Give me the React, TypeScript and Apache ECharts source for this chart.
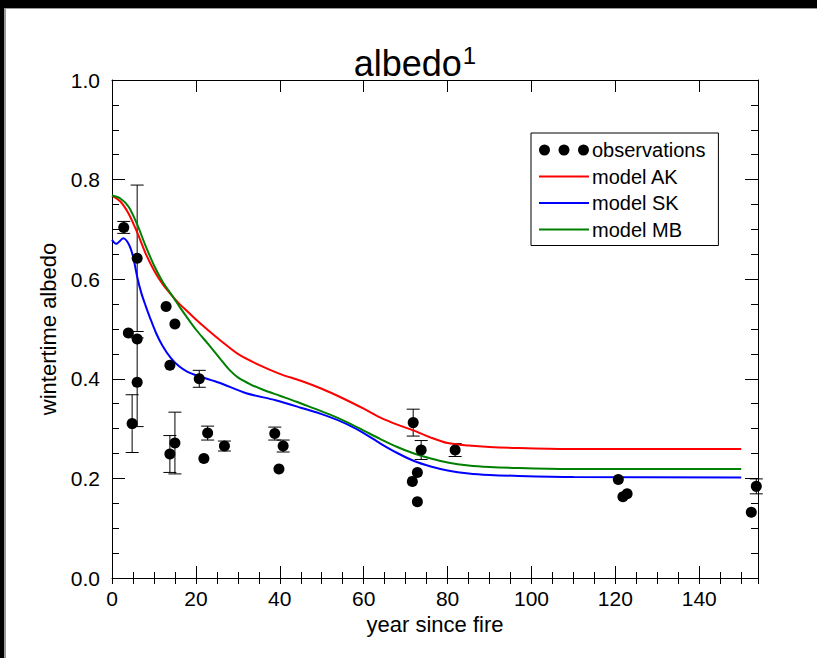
import React, { useEffect, useRef } from "react";
import * as echarts from "echarts";

// ---- data ----
const obsX = [2.8, 3.9, 6.0, 6.0, 6.0, 4.8, 12.9, 15.0, 13.8, 20.8, 15.0, 13.8, 22.8, 21.9, 26.8, 38.8, 40.8, 39.8, 71.8, 73.7, 81.8, 72.8, 71.6, 72.8, 120.7, 121.8, 122.8, 153.6, 152.4];
const obsY = [0.704, 0.492, 0.642, 0.48, 0.393, 0.31, 0.545, 0.51, 0.427, 0.4, 0.271, 0.249, 0.291, 0.24, 0.265, 0.29, 0.265, 0.219, 0.312, 0.257, 0.257, 0.212, 0.194, 0.153, 0.198, 0.163, 0.169, 0.184, 0.132];
const obsErr = [0.012, 0, 0.147, 0, 0.089, 0.058, 0, 0, 0, 0.017, 0.062, 0.037, 0.014, 0, 0.01, 0.013, 0.012, 0, 0.027, 0.019, 0.013, 0, 0, 0, 0, 0, 0, 0.015, 0];

const modelAK = [[0, 0.768], [2, 0.756], [4, 0.731], [6, 0.694], [8, 0.652], [10, 0.618], [12, 0.591], [14, 0.57], [16, 0.551], [18, 0.535], [20, 0.519], [23, 0.497], [26, 0.476], [30, 0.45], [35, 0.428], [40, 0.41], [45, 0.396], [50, 0.38], [55, 0.361], [60, 0.34], [64, 0.322], [68, 0.308], [72, 0.296], [76, 0.282], [80, 0.271], [85, 0.266], [90, 0.263], [97, 0.261], [110, 0.259], [150, 0.259]];
const modelMB = [[0, 0.768], [2, 0.762], [4, 0.745], [6, 0.71], [8, 0.667], [10, 0.628], [12, 0.596], [14, 0.571], [16, 0.546], [18, 0.522], [20, 0.499], [23, 0.469], [26, 0.438], [28, 0.418], [30, 0.403], [33, 0.389], [36, 0.378], [40, 0.366], [44, 0.354], [48, 0.341], [52, 0.328], [56, 0.313], [60, 0.296], [64, 0.279], [68, 0.263], [72, 0.25], [76, 0.24], [80, 0.232], [85, 0.226], [90, 0.223], [97, 0.221], [110, 0.219], [150, 0.219]];
const modelSK = [[0, 0.679], [1, 0.671], [2.7, 0.682], [4, 0.67], [5, 0.646], [6, 0.605], [7, 0.572], [8, 0.547], [9, 0.524], [10.5, 0.492], [12, 0.467], [14, 0.442], [16, 0.425], [18, 0.414], [20.8, 0.405], [25.6, 0.392], [32, 0.371], [39, 0.357], [45, 0.342], [51, 0.326], [56, 0.309], [60, 0.291], [64, 0.27], [68, 0.251], [72, 0.235], [76, 0.224], [80, 0.216], [85, 0.21], [90, 0.207], [97, 0.205], [110, 0.203], [150, 0.202]];

const seriesNames = ["observations", "model AK", "model SK", "model MB"];
const seriesColors = ["#000000", "#ff0000", "#0000ff", "#008000"];
const titleText = "albedo";
const titleSup = "1";
const xName = "year since fire";
const yName = "wintertime albedo";

const FONT = "'Liberation Sans', Arial, sans-serif";

export default function App() {
  const ref = useRef<HTMLDivElement>(null);
  useEffect(() => {
    if (!ref.current) return;
    const chart = echarts.init(ref.current, null, { renderer: "svg" });
    const scatterData = obsX.map((x, i) => [x, obsY[i]]);
    const errData = obsX
      .map((x, i) => [x, obsY[i] - obsErr[i], obsY[i] + obsErr[i], obsErr[i]])
      .filter((d) => d[3] > 0);
    const labelStyle = { color: "#000", fontSize: 21, fontFamily: FONT };
    const xBase = { type: "value", min: 0, max: 154, gridIndex: 0, splitLine: { show: false } };
    const yBase = { type: "value", min: 0, max: 1, interval: 0.2, gridIndex: 0, splitLine: { show: false } };
    const hideSym = { color: "rgba(0,0,0,0)", borderColor: "rgba(0,0,0,0)", borderWidth: 0, opacity: 0 };
    const lineSeries = (name: string, data: number[][], color: string) => ({
      name,
      type: "line",
      data,
      smooth: 0.3,
      symbol: "none",
      color,
      lineStyle: { color, width: 2 },
    });
    const option: any = {
      animation: false,
      backgroundColor: "#fff",
      title: {
        text: `{a|${titleText}}{s|${titleSup}}`,
        left: 410,
        top: 38,
        textAlign: "center",
        textStyle: {
          fontWeight: "normal",
          rich: {
            a: { fontSize: 36, fontFamily: FONT, fontWeight: "normal", color: "#000", lineHeight: 40 },
            s: { fontSize: 24, fontFamily: FONT, fontWeight: "normal", color: "#000", verticalAlign: "top", lineHeight: 26, padding: [0, 0, 0, 1] },
          },
        },
      },
      grid: { left: 112, top: 80, right: 59, bottom: 80, containLabel: false },
      legend: {
        orient: "vertical",
        left: 531,
        top: 133,
        backgroundColor: "#fff",
        borderColor: "#000",
        borderWidth: 1,
        borderRadius: 0,
        padding: [7, 13, 6, 7],
        itemGap: 6.5,
        itemWidth: 50,
        itemHeight: 11,
        textStyle: { color: "#000", fontSize: 20, fontFamily: FONT, lineHeight: 20, padding: [0, 0, 0, -2] },
        data: [
          {
            name: seriesNames[0],
            icon: "path://M0,5.5a5.5,5.5 0 1,0 11,0a5.5,5.5 0 1,0 -11,0Z M19.5,5.5a5.5,5.5 0 1,0 11,0a5.5,5.5 0 1,0 -11,0Z M39,5.5a5.5,5.5 0 1,0 11,0a5.5,5.5 0 1,0 -11,0Z",
            itemStyle: { color: "#000", opacity: 1 },
          },
          { name: seriesNames[1], itemStyle: hideSym },
          { name: seriesNames[2], itemStyle: hideSym },
          { name: seriesNames[3], itemStyle: hideSym },
        ],
      },
      xAxis: [
        {
          ...xBase,
          position: "bottom",
          interval: 20,
          axisLine: { show: true, onZero: false, lineStyle: { color: "#000", width: 1 } },
          axisTick: { show: true, inside: true, length: 12, lineStyle: { color: "#000" } },
          axisLabel: {
            ...labelStyle,
            margin: 10,
            showMaxLabel: false,
            formatter: (v: number) => (v % 20 === 0 ? String(v) : ""),
          },
          name: xName,
          nameLocation: "middle",
          nameGap: 34,
          nameTextStyle: { color: "#000", fontSize: 22, fontFamily: FONT },
        },
        {
          ...xBase,
          position: "bottom",
          interval: 5,
          axisLine: { show: false },
          axisTick: { show: true, inside: true, length: 6, lineStyle: { color: "#000" } },
          axisLabel: { show: false },
        },
        {
          ...xBase,
          position: "top",
          interval: 20,
          axisLine: { show: true, onZero: false, lineStyle: { color: "#000", width: 1 } },
          axisTick: { show: true, inside: true, length: 12, lineStyle: { color: "#000" } },
          axisLabel: { show: false },
        },
        {
          ...xBase,
          position: "top",
          interval: 5,
          axisLine: { show: false },
          axisTick: { show: true, inside: true, length: 6, lineStyle: { color: "#000" } },
          axisLabel: { show: false },
        },
      ],
      yAxis: [
        {
          ...yBase,
          position: "left",
          axisLine: { show: true, onZero: false, lineStyle: { color: "#000", width: 1 } },
          axisTick: { show: true, inside: true, length: 13, lineStyle: { color: "#000" } },
          minorTick: { show: true, splitNumber: 4, length: 7, lineStyle: { color: "#000" } },
          axisLabel: { ...labelStyle, margin: 12, formatter: (v: number) => v.toFixed(1) },
          name: yName,
          nameLocation: "middle",
          nameGap: 52,
          nameRotate: 90,
          nameTextStyle: { color: "#000", fontSize: 22, fontFamily: FONT },
        },
        {
          ...yBase,
          position: "right",
          axisLine: { show: true, onZero: false, lineStyle: { color: "#000", width: 1 } },
          axisTick: { show: true, inside: true, length: 13, lineStyle: { color: "#000" } },
          minorTick: { show: true, splitNumber: 4, length: 7, lineStyle: { color: "#000" } },
          axisLabel: { show: false },
        },
      ],
      series: [
        lineSeries(seriesNames[1], modelAK, seriesColors[1]),
        lineSeries(seriesNames[2], modelSK, seriesColors[2]),
        lineSeries(seriesNames[3], modelMB, seriesColors[3]),
        {
          name: "errors",
          type: "custom",
          clip: false,
          data: errData,
          encode: { x: 0, y: [1, 2] },
          z: 3,
          renderItem: (params: any, api: any) => {
            const x = api.value(0);
            const lo = api.coord([x, api.value(1)]);
            const hi = api.coord([x, api.value(2)]);
            const hw = 6.5;
            const st = { stroke: "#000", lineWidth: 1 };
            return {
              type: "group",
              children: [
                { type: "line", shape: { x1: lo[0], y1: lo[1], x2: hi[0], y2: hi[1] }, style: st },
                { type: "line", shape: { x1: lo[0] - hw, y1: lo[1], x2: lo[0] + hw, y2: lo[1] }, style: st },
                { type: "line", shape: { x1: hi[0] - hw, y1: hi[1], x2: hi[0] + hw, y2: hi[1] }, style: st },
              ],
            };
          },
        },
        {
          name: seriesNames[0],
          type: "scatter",
          data: scatterData,
          clip: false,
          symbol: "circle",
          symbolSize: 11,
          color: seriesColors[0],
          itemStyle: { color: seriesColors[0], opacity: 1 },
          z: 4,
        },
      ],
    };
    chart.setOption(option);
    return () => chart.dispose();
  }, []);

  return (
    <div style={{ position: "fixed", left: 0, top: 0, width: 817, height: 658, background: "#fff" }}>
      <div ref={ref} style={{ position: "absolute", left: 0, top: 0, width: 817, height: 658 }} />
      <div style={{ position: "absolute", left: 0, top: 0, width: 817, height: 8, background: "#000", pointerEvents: "none" }} />
      <div style={{ position: "absolute", left: 5, top: 8, width: 812, height: 1, background: "#9a9a9a", pointerEvents: "none" }} />
      <div style={{ position: "absolute", left: 0, top: 0, width: 4, height: 658, background: "#000", pointerEvents: "none" }} />
      <div style={{ position: "absolute", left: 4, top: 8, width: 2, height: 650, background: "#9a9a9a", pointerEvents: "none" }} />
    </div>
  );
}
